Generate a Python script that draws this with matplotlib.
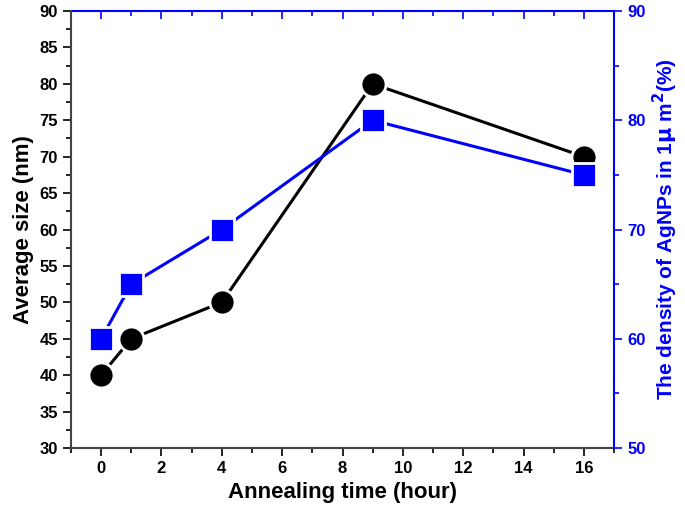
import numpy as np
import matplotlib.pyplot as plt
from matplotlib.ticker import MultipleLocator

plt.rcParams['font.family'] = ['Liberation Sans', 'DejaVu Sans']
plt.rcParams['font.weight'] = 'bold'

# Data
hours = [0, 1, 4, 9, 16]
avg_size = [40, 45, 50, 80, 70]
density = [60, 65, 70, 80, 75]

blue = '#0000ff'

fig = plt.figure(figsize=(6.85, 5.14), dpi=100)
ax = fig.add_axes([0.1036, 0.1284, 0.7928, 0.8502])
ax2 = ax.twinx()

ax.plot(hours, avg_size, '-o', color='black', lw=2.2, ms=18,
        mec='white', mew=2, zorder=3)
ax2.plot(hours, density, '-s', color=blue, lw=2.2, ms=17,
         mec='white', mew=2, zorder=3)

ax.set_xlim(-1, 17)
ax.set_ylim(30, 90)
ax2.set_ylim(50, 90)

ax.xaxis.set_major_locator(MultipleLocator(2))
ax.xaxis.set_minor_locator(MultipleLocator(1))
ax.yaxis.set_major_locator(MultipleLocator(5))
ax.yaxis.set_minor_locator(MultipleLocator(2.5))
ax2.yaxis.set_major_locator(MultipleLocator(10))
ax2.yaxis.set_minor_locator(MultipleLocator(5))

ax.tick_params(axis='x', which='major', direction='out', length=6, width=1.2, labelsize=12)
ax.tick_params(axis='x', which='minor', direction='out', length=3.5, width=1.2)
ax.tick_params(axis='y', which='major', direction='out', length=6, width=1.2, labelsize=12)
ax.tick_params(axis='y', which='minor', direction='out', length=3.5, width=1.2)
ax2.tick_params(axis='y', which='major', direction='out', length=6, width=1.2,
                colors=blue, labelsize=12)
ax2.tick_params(axis='y', which='minor', direction='out', length=3.5, width=1.2,
                colors=blue)

# top axis: inward blue ticks, no labels
top = ax.secondary_xaxis('top')
top.xaxis.set_major_locator(MultipleLocator(2))
top.xaxis.set_minor_locator(MultipleLocator(1))
top.tick_params(axis='x', which='major', direction='in', length=6, width=1.2,
                colors=blue, labeltop=False)
top.tick_params(axis='x', which='minor', direction='in', length=3.5, width=1.2,
                colors=blue)
top.spines['top'].set_color(blue)
top.spines['top'].set_linewidth(1.5)

for s in ['left', 'bottom']:
    ax.spines[s].set_color('#444444')
    ax.spines[s].set_linewidth(1.5)
ax.spines['top'].set_visible(False)
ax.spines['right'].set_visible(False)
ax2.spines['right'].set_color(blue)
ax2.spines['right'].set_linewidth(1.5)
ax2.spines['top'].set_visible(False)
ax2.spines['left'].set_visible(False)
ax2.spines['bottom'].set_visible(False)

ax.set_xlabel('Annealing time (hour)', fontsize=16, fontweight='bold')
ax.set_ylabel('Average size (nm)', fontsize=16, fontweight='bold')
ax2.set_ylabel('The density of AgNPs in 1$\\mathbf{\\mu}$ m$^\\mathbf{2}$(%)',
               fontsize=15, fontweight='bold', color=blue)

fig.savefig('out.png', dpi=100)
